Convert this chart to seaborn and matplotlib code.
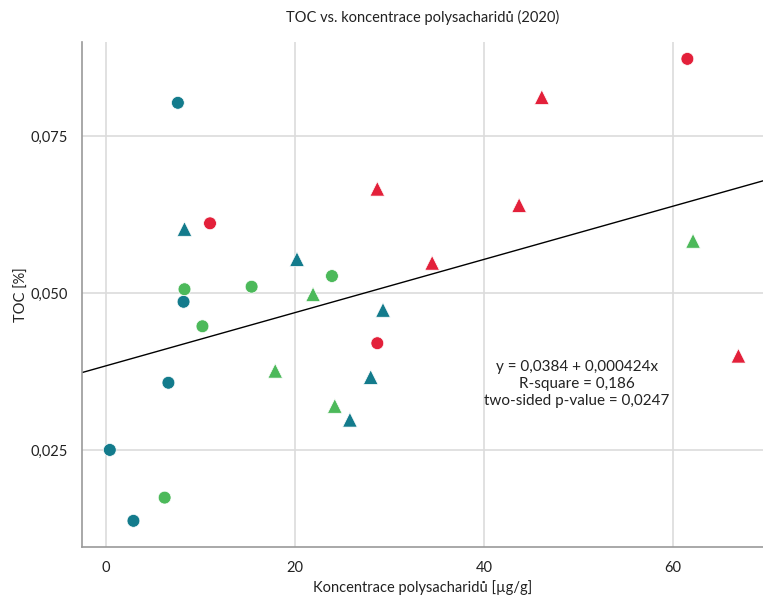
'''
TOC vs. koncentrace polysacharidu (2020)
'''
import seaborn as sns
import pandas as pd
import matplotlib.pyplot as plt
from matplotlib.ticker import FuncFormatter

# koncentrace polysacharidu [ug/g]
polysach = [7.6, 8.2, 6.6, 0.4, 2.9,
            8.3, 20.2, 29.3, 28.0, 25.8,
            11.0, 61.5, 28.7,
            28.7, 46.1, 43.7, 34.5, 66.9,
            8.3, 10.2, 15.4, 23.9, 6.2,
            21.9, 17.9, 24.2, 62.1]
# TOC [%]
toc = [0.0803, 0.0486, 0.0357, 0.0250, 0.0137,
       0.0602, 0.0554, 0.0473, 0.0366, 0.0298,
       0.0611, 0.0873, 0.0420,
       0.0666, 0.0812, 0.0640, 0.0548, 0.0400,
       0.0506, 0.0447, 0.0510, 0.0527, 0.0174,
       0.0498, 0.0376, 0.0320, 0.0583]
skupina = ['B'] * 10 + ['A'] * 8 + ['C'] * 9
typ = (['kruh'] * 5 + ['troj'] * 5 + ['kruh'] * 3 + ['troj'] * 5
       + ['kruh'] * 5 + ['troj'] * 4)

intercept = 0.0384
slope = 0.000424
r2 = 0.186
pval = 0.0247

data = pd.DataFrame({'x': polysach, 'y': toc, 'skupina': skupina, 'typ': typ})

sns.set_style('white')
plt.rcParams['font.family'] = ['Lato', 'DejaVu Sans']

fig = plt.figure(figsize=(7.63, 5.99), dpi=100)
ax = fig.add_axes([0.1075, 0.087, 0.8925, 0.843])

ax.grid(True, color='#dcdcdc', linewidth=1.2, zorder=0)
ax.set_axisbelow(True)

pal = {'A': '#e3203a', 'B': '#137b8c', 'C': '#4cb95a'}
for t, m, s in [('kruh', 'o', 85), ('troj', '^', 110)]:
    sub = data[data.typ == t]
    sns.scatterplot(data=sub, x='x', y='y', hue='skupina', palette=pal,
                    marker=m, s=s, edgecolor='white', linewidth=0.5,
                    legend=False, ax=ax, zorder=3)

ax.axline((0, intercept), slope=slope, color='black', linewidth=1, zorder=2)

ax.set_xlim(-2.54, 69.5)
ax.set_ylim(0.00955, 0.0900)
ax.set_xticks([0, 20, 40, 60])
ax.set_yticks([0.025, 0.050, 0.075])
ax.yaxis.set_major_formatter(FuncFormatter(lambda v, p: f'{v:.3f}'.replace('.', ',')))

fmt = lambda v, d: f'{v:.{d}f}'.replace('.', ',')
txt = (f'y = {fmt(intercept, 4)} + {fmt(slope, 6)}x\n'
       f'R-square = {fmt(r2, 3)}\n'
       f'two-sided p-value = {fmt(pval, 4)}')
ax.text(49.8, 0.0355, txt, ha='center', va='center', fontsize=11,
        linespacing=1.25, color='#222222')

for side in ['top', 'right']:
    ax.spines[side].set_visible(False)
for side in ['left', 'bottom']:
    ax.spines[side].set_color('#9a9a9a')
    ax.spines[side].set_linewidth(1.2)
ax.tick_params(axis='both', direction='out', length=6, width=1, color='#9a9a9a',
               labelsize=10.5, labelcolor='#222222', pad=4)

ax.set_xlabel('Koncentrace polysacharidů [µg/g]', fontsize=10.5, color='#222222', labelpad=4)
ax.set_ylabel('TOC [%]', fontsize=10.5, color='#222222', labelpad=1)
ax.set_title('TOC vs. koncentrace polysacharidů (2020)', fontsize=10.5, color='#222222', pad=14)

plt.savefig('out.png', dpi=100)
